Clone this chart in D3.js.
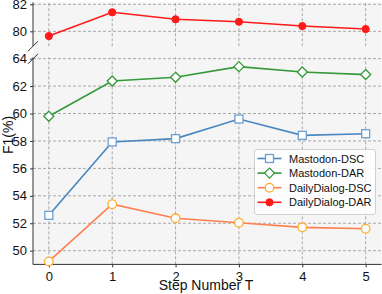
<!DOCTYPE html>
<html><head><meta charset="utf-8">
<script src="https://cdn.jsdelivr.net/npm/d3@7"></script>
<style>html,body{margin:0;padding:0;background:#fff;}svg{display:block;font-family:"Liberation Sans",Arial,sans-serif;}</style>
</head><body>
<svg id="c" width="382" height="294"></svg>
<script>
const steps = [0, 1, 2, 3, 4, 5];
const mastodonDSC = [52.58, 57.93, 58.17, 59.60, 58.41, 58.53];
const mastodonDAR = [59.80, 62.37, 62.64, 63.42, 63.03, 62.84];
const dailyDSC = [49.22, 53.39, 52.36, 52.04, 51.70, 51.60];
const dailyDAR = [79.65, 81.41, 80.89, 80.71, 80.39, 80.17];
const bottomTicks = [50, 52, 54, 56, 58, 60, 62, 64];
const topTicks = [80, 82];
const xTicks = [0, 1, 2, 3, 4, 5];
const seriesNames = ["Mastodon-DSC", "Mastodon-DAR", "DailyDialog-DSC", "DailyDialog-DAR"];

const svg = d3.select("#c");
const left = 33, right = 381.5;
const x = d3.scaleLinear().domain([-0.25, 5.25]).range([left, right]);
const yB = d3.scaleLinear().domain([49, 64.1]).range([264.4, 57.3]);
const yT = d3.scaleLinear().domain([78.9, 82.15]).range([46.2, 2.3]);

// background
svg.append("rect").attr("x", left).attr("y", yT.range()[1]).attr("width", right - left)
  .attr("height", yB.range()[0] - yT.range()[1]).attr("fill", "#f5f5f5");

const gridCol = "#a8a8a8";
function panel(y, ticks) {
  const g = svg.append("g");
  // horizontal grid
  g.selectAll(".hg").data(ticks).enter().append("line")
    .attr("x1", left).attr("x2", right).attr("y1", d => y(d)).attr("y2", d => y(d))
    .attr("stroke", gridCol).attr("stroke-width", 1).attr("stroke-dasharray", "3,2");
  // vertical grid
  g.selectAll(".vg").data(xTicks).enter().append("line")
    .attr("x1", d => x(d)).attr("x2", d => x(d)).attr("y1", y.range()[0]).attr("y2", y.range()[1])
    .attr("stroke", gridCol).attr("stroke-width", 1).attr("stroke-dasharray", "3,2");
  // left axis
  const ax = svg.append("g").attr("transform", `translate(${left},0)`)
    .call(d3.axisLeft(y).tickValues(ticks).tickSize(3).tickPadding(3).tickFormat(d3.format("d")));
  ax.select(".domain").attr("stroke", "#333").attr("d", `M0,${y.range()[0]}V${y.range()[1]}`);
  ax.selectAll(".tick line").attr("stroke", "#333");
  ax.selectAll("text").attr("font-size", 13).attr("fill", "#111").attr("font-family", '"Liberation Sans",Arial,sans-serif');
}
panel(yT, topTicks);
panel(yB, bottomTicks);

// bottom axis
const xa = svg.append("g").attr("transform", `translate(0,${yB.range()[0]})`)
  .call(d3.axisBottom(x).tickValues(xTicks).tickSize(3).tickPadding(4).tickFormat(d3.format("d")));
xa.select(".domain").attr("stroke", "#333").attr("d", `M${left},0H${right}`);
xa.selectAll(".tick line").attr("stroke", "#333");
xa.selectAll("text").attr("font-size", 13).attr("fill", "#111").attr("font-family", '"Liberation Sans",Arial,sans-serif');

// break marks
[yT.range()[0], yB.range()[1] + 1.5].forEach(yy => {
  svg.append("line").attr("x1", left - 5).attr("y1", yy + 5).attr("x2", left + 5).attr("y2", yy - 5)
    .attr("stroke", "#333").attr("stroke-width", 1);
});

// series
const styles = [
  {name: seriesNames[0], data: mastodonDSC, y: yB, line: "#4a86bf", edge: "#6c9fd2", fill: "#fff", shape: "square"},
  {name: seriesNames[1], data: mastodonDAR, y: yB, line: "#34993a", edge: "#34993a", fill: "#fff", shape: "diamond"},
  {name: seriesNames[2], data: dailyDSC, y: yB, line: "#ff7f50", edge: "#ffad2a", fill: "#fff", shape: "circle"},
  {name: seriesNames[3], data: dailyDAR, y: yT, line: "#ff1a1a", edge: "#ff1a1a", fill: "#ff1a1a", shape: "dot"}
];
function marker(g, s, cx, cy) {
  if (s.shape === "square") {
    g.append("rect").attr("x", cx - 4).attr("y", cy - 4).attr("width", 8).attr("height", 8)
      .attr("fill", s.fill).attr("stroke", s.edge).attr("stroke-width", 1.3);
  } else if (s.shape === "diamond") {
    g.append("path").attr("d", `M${cx},${cy - 5}L${cx + 5},${cy}L${cx},${cy + 5}L${cx - 5},${cy}Z`)
      .attr("fill", s.fill).attr("stroke", s.edge).attr("stroke-width", 1.3);
  } else if (s.shape === "circle") {
    g.append("circle").attr("cx", cx).attr("cy", cy).attr("r", 4.3)
      .attr("fill", s.fill).attr("stroke", s.edge).attr("stroke-width", 1.3);
  } else {
    g.append("circle").attr("cx", cx).attr("cy", cy).attr("r", 3.6)
      .attr("fill", s.fill).attr("stroke", s.edge).attr("stroke-width", 1);
  }
}
styles.forEach(s => {
  const line = d3.line().x((d, i) => x(steps[i])).y(d => s.y(d));
  svg.append("path").attr("d", line(s.data)).attr("fill", "none")
    .attr("stroke", s.line).attr("stroke-width", 1.6);
  const g = svg.append("g");
  s.data.forEach((d, i) => marker(g, s, x(steps[i]), s.y(d)));
});

// legend
const lg = svg.append("g");
lg.append("rect").attr("x", 254.5).attr("y", 149.5).attr("width", 121).attr("height", 65).attr("rx", 2.5)
  .attr("fill", "#fff").attr("fill-opacity", 0.85).attr("stroke", "#d0d0d0").attr("stroke-width", 1);
styles.forEach((s, i) => {
  const yy = 158.5 + i * 14.6;
  lg.append("line").attr("x1", 257.5).attr("x2", 281.5).attr("y1", yy).attr("y2", yy)
    .attr("stroke", s.line).attr("stroke-width", 1.6);
  marker(lg, s, 269.5, yy);
  lg.append("text").attr("x", 289).attr("y", yy + 4).attr("font-size", 11).attr("fill", "#111").text(s.name);
});

// axis labels
svg.append("text").attr("x", 206).attr("y", 290).attr("text-anchor", "middle").attr("font-size", 14)
  .attr("fill", "#111").text("Step Number T");
svg.append("text").attr("transform", "translate(13,135) rotate(-90)").attr("text-anchor", "middle")
  .attr("font-size", 14).attr("fill", "#111").text("F1(%)");
</script>
</body></html>
